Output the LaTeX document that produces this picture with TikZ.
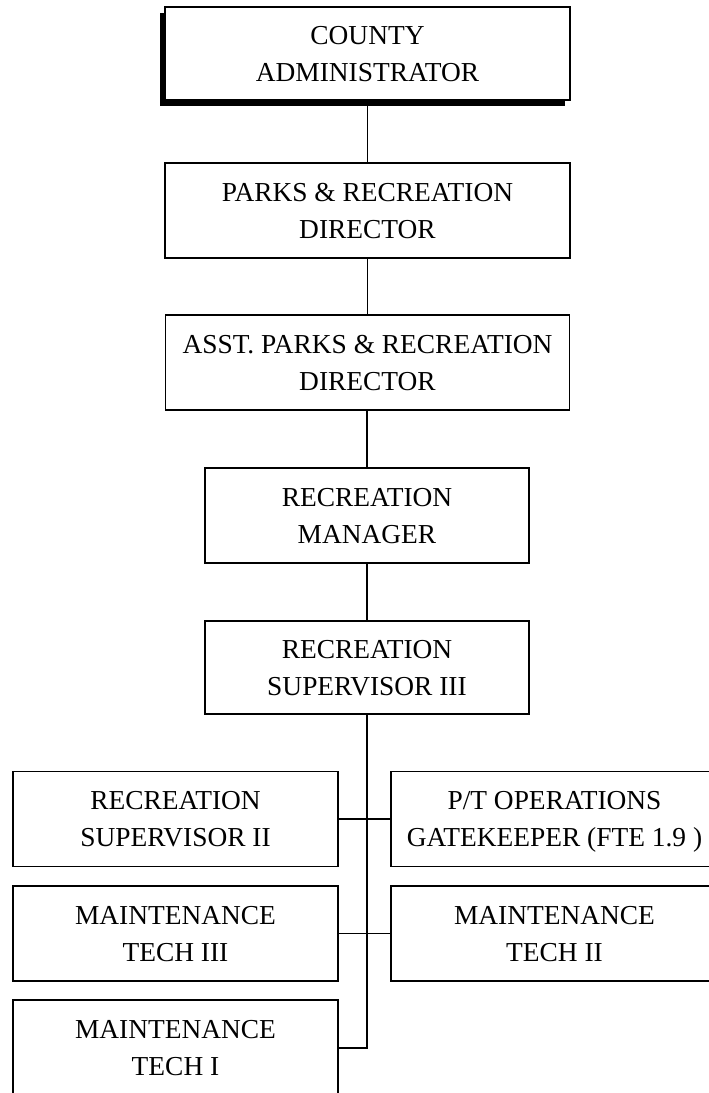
\documentclass[tikz,border=0pt]{standalone}
\usepackage{fontspec}
\setmainfont{Liberation Serif}
\usetikzlibrary{shadows}
\begin{document}
\begin{tikzpicture}[x=1pt,y=-1pt,
  orgbox/.style={draw=black, line width=1.4pt, fill=white, rectangle,
    inner sep=0pt, align=center, text depth=0pt,
    font=\fontsize{27.4}{37}\selectfont},
  chainbox/.style={orgbox, minimum height=95pt},
  sidebox/.style={orgbox, minimum height=95pt},
  link/.style={draw=black, line width=1.3pt}]
\useasboundingbox (0,0) rectangle (709,1093);
\fill[white] (0,0) rectangle (709,1093);

% main reporting chain
\node[orgbox, minimum width=405pt, minimum height=93pt,
  drop shadow={shadow xshift=-5pt, shadow yshift=-6pt, opacity=1, fill=black}]
  (cadmin) at (367.5,53.5) {COUNTY\\ADMINISTRATOR};
\node[chainbox, minimum width=405pt] (prdir) at (367.5,210.5) {PARKS \& RECREATION\\DIRECTOR};
\node[chainbox, minimum width=404pt] (asst) at (367.5,362.5) {ASST. PARKS \& RECREATION\\DIRECTOR};
\node[chainbox, minimum width=324pt] (rmgr) at (367,515.5) {RECREATION\\MANAGER};
\node[chainbox, minimum width=324pt, minimum height=93pt] (rsup3) at (367,667.5) {RECREATION\\SUPERVISOR III};

% staff under the supervisor
\node[sidebox, minimum width=325pt] (rsup2) at (175.5,819) {RECREATION\\SUPERVISOR II};
\node[sidebox, minimum width=327pt] (gate) at (554.5,819) {P/T OPERATIONS\\GATEKEEPER (FTE 1.9 )};
\node[sidebox, minimum width=325pt] (mt3) at (175.5,933.5) {MAINTENANCE\\TECH III};
\node[sidebox, minimum width=327pt] (mt2) at (554.5,933.5) {MAINTENANCE\\TECH II};
\node[sidebox, minimum width=325pt, minimum height=96pt] (mt1) at (175.5,1048) {MAINTENANCE\\TECH I};

% connectors
\draw[link] (cadmin.south) -- (cadmin.south |- prdir.north);
\draw[link] (prdir.south) -- (prdir.south |- asst.north);
\draw[link] (rmgr.north |- asst.south) -- (rmgr.north);
\draw[link] (rmgr.south) -- (rsup3.north);
\coordinate (trunkend) at (367,1048);
\draw[link] (rsup3.south) -- (trunkend) -- (mt1.east);
\draw[link] (rsup2.east) -- (gate.west);
\draw[link] (mt3.east) -- (mt2.west);
\end{tikzpicture}
\end{document}
